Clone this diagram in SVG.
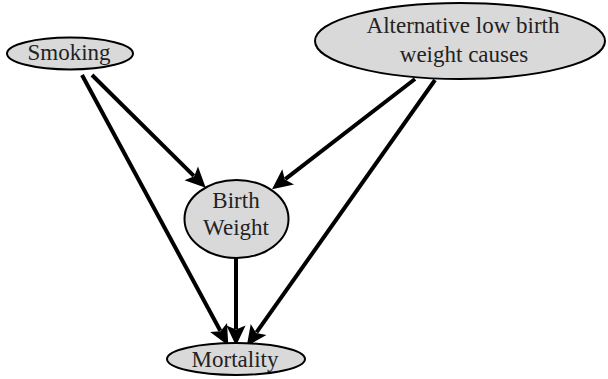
<svg xmlns="http://www.w3.org/2000/svg" width="608" height="379" viewBox="0 0 608 379">
<style>
.node ellipse{fill:#d9d9d9;stroke:#000;stroke-width:2}
.node text{font-family:"Liberation Serif",serif;font-size:23px;fill:#222;text-anchor:middle}
.edge{stroke:#000;stroke-width:4;fill:none;marker-end:url(#arr)}
</style>
<defs>
<marker id="arr" markerUnits="userSpaceOnUse" markerWidth="24" markerHeight="24" viewBox="-1 -10 20 20" refX="3" refY="0" orient="auto">
<path d="M0,-8 L17,0 L0,8 L3.5,0 z" fill="#000"/>
</marker>
</defs>
<g id="connectors">
<line class="edge" x1="92" y1="75" x2="193.8" y2="175.9"/>
<line class="edge" x1="82" y1="75" x2="220.3" y2="330.7"/>
<line class="edge" x1="415" y1="79" x2="285.3" y2="179.1"/>
<line class="edge" x1="435" y1="80" x2="256.5" y2="332.4"/>
<line class="edge" x1="236" y1="258" x2="236" y2="329"/>
</g>
<g id="smoking" class="node">
<ellipse cx="70" cy="53.5" rx="63" ry="16"/>
<text x="69" y="60">Smoking</text>
</g>
<g id="alt" class="node">
<ellipse cx="460" cy="41" rx="145" ry="38"/>
<text x="463" y="33">Alternative low birth</text>
<text x="464" y="62">weight causes</text>
</g>
<g id="birthweight" class="node">
<ellipse cx="236.5" cy="219" rx="52" ry="39"/>
<text x="236" y="208">Birth</text>
<text x="236" y="235">Weight</text>
</g>
<g id="mortality" class="node">
<ellipse cx="236" cy="359" rx="69" ry="16"/>
<text x="235" y="367">Mortality</text>
</g>
</svg>
